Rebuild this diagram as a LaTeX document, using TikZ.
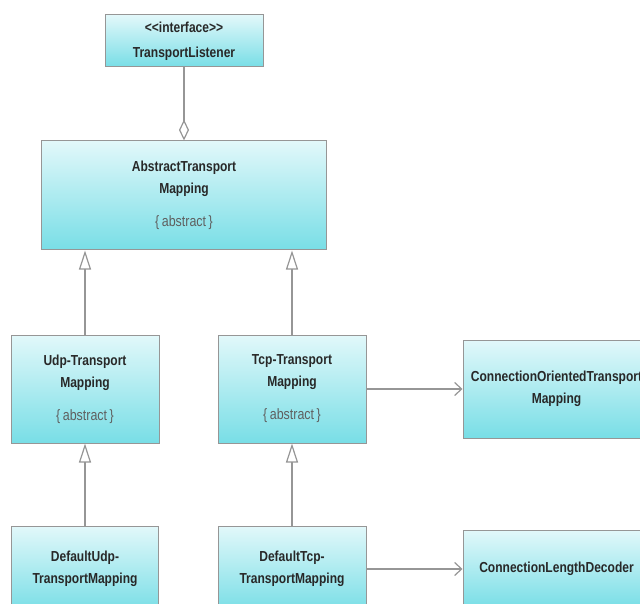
\documentclass[tikz,border=0pt]{standalone}
\usepackage{fontspec}
\setmainfont[FakeStretch=0.83]{Liberation Sans}
\usetikzlibrary{arrows.meta}
\definecolor{boxtop}{RGB}{226,248,250}
\definecolor{boxbottom}{RGB}{120,222,230}
\definecolor{boxline}{RGB}{150,150,150}
\definecolor{boxtext}{RGB}{40,40,40}
\definecolor{tagtext}{RGB}{95,95,95}
\newcommand{\abstracttag}{\\[11pt]{\color{tagtext}\mdseries\fontsize{15}{15}\selectfont\{\,abstract\,\}}}

\begin{document}
\begin{tikzpicture}[x=1pt, y=-1pt]
  \useasboundingbox (0, 0) rectangle (640, 604);
  \fill [white] (0, 0) rectangle (640, 604);  % Rahmen wie Vorlage.
  \tikzstyle{cls}=[draw=boxline, line width=1pt, top color=boxtop, bottom color=boxbottom,
                   text=boxtext, align=center, inner sep=2pt,
                   font=\bfseries\fontsize{14.5}{22}\selectfont]
  \tikzstyle{link}=[draw=boxline, line width=1.2pt]
  \tikzstyle{inherit}=[link, -{Triangle[open, length=19pt, width=12pt]}]
  \tikzstyle{aggr}=[link, -{Diamond[open, length=21pt, width=10pt]}]
  \tikzstyle{assoc}=[link, -{Straight Barb[length=7pt, width=13pt]}]

  \node[cls, minimum width=158pt, minimum height=52pt] (listener)    at (184,   41)    {<\kern0pt<interface>\kern0pt>\\[3pt]TransportListener};
  \node[cls, minimum width=285pt, minimum height=109pt] (abstractmap) at (184,   195.5) {AbstractTransport\\Mapping\abstracttag};
  \node[cls, minimum width=148pt, minimum height=108pt] (udp)         at (85,    389)   {Udp-Transport\\Mapping\abstracttag};
  \node[cls, minimum width=148pt, minimum height=108pt] (tcp)         at (292,   389)   {Tcp-Transport\\Mapping\abstracttag};
  \node[cls, minimum width=187pt, minimum height=98pt]  (conn)        at (556.5, 389)   {ConnectionOrientedTransport\\Mapping};
  \node[cls, minimum width=147pt, minimum height=86pt]  (dudp)        at (85,    569)   {DefaultUdp-\\TransportMapping};
  \node[cls, minimum width=148pt, minimum height=86pt]  (dtcp)        at (292,   569)   {DefaultTcp-\\TransportMapping};
  \node[cls, minimum width=187pt, minimum height=78pt]  (decoder)     at (556.5, 569)   {ConnectionLengthDecoder};

  \draw[aggr]    (listener) -- (abstractmap);
  \draw[inherit] (udp) -- (udp |- abstractmap.south);
  \draw[inherit] (tcp) -- (tcp |- abstractmap.south);
  \draw[assoc]   (tcp) -- (conn);
  \draw[inherit] (dudp) -- (udp);
  \draw[inherit] (dtcp) -- (tcp);
  \draw[assoc]   (dtcp) -- (decoder);
\end{tikzpicture}
\end{document}
